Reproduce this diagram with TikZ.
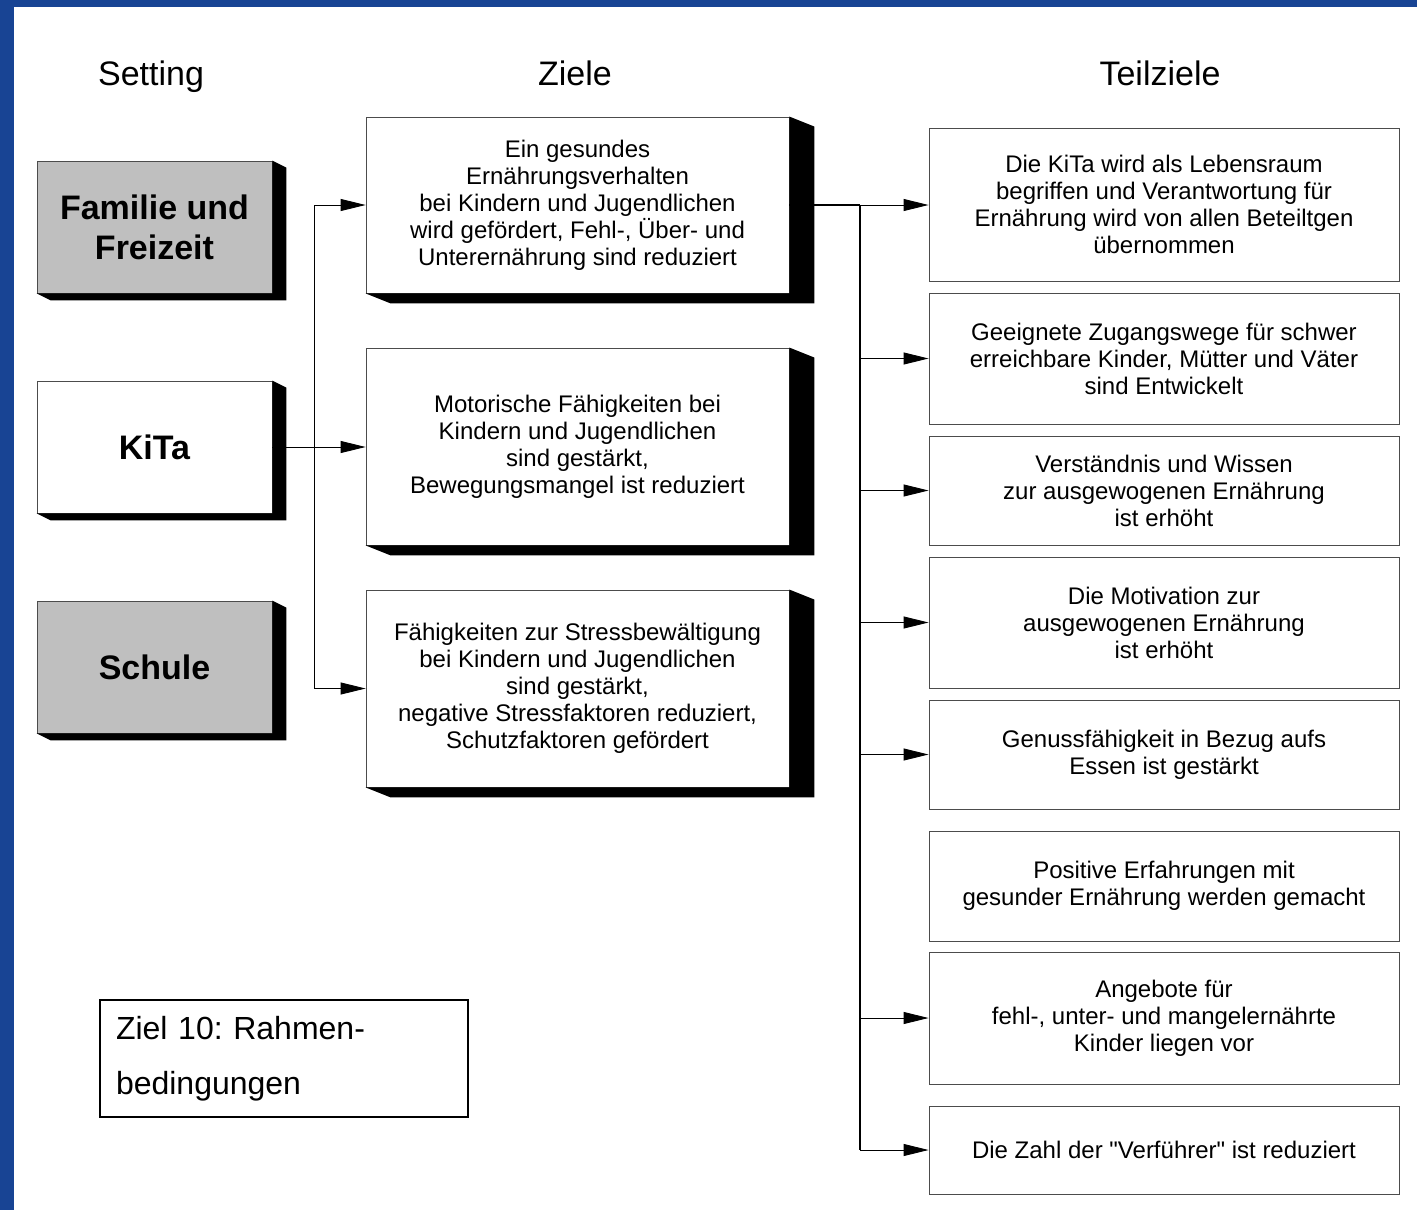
\documentclass[tikz,border=0pt]{standalone}
\usepackage{fontspec}
\setmainfont{Liberation Sans}
\newfontfamily\qfont{Liberation Sans}[Mapping=]
\usetikzlibrary{arrows.meta,calc}
\definecolor{frameblue}{RGB}{24,68,148}
\frenchspacing
\newcommand\boxshadow[3]{%
  \fill (#1.north east) -- ++(#2,#3) -- ($(#1.south east)+(#2,#3)$) -- ($(#1.south west)+(#2,#3)$) -- (#1.south west) -- (#1.south east) -- cycle;}
\begin{document}
\begin{tikzpicture}[x=1pt,y=-1pt,
  every node/.style={font=\fontsize{24}{27}\selectfont, align=center, inner sep=0},
  setbox/.style={draw=black!70, line width=0.8, minimum width=235, minimum height=132, font=\fontsize{34}{40}\selectfont\bfseries},
  zielbox/.style={draw=black!70, fill=white, line width=0.8, minimum width=423},
  teilbox/.style={draw=black!70, line width=0.9, minimum width=470},
  heading/.style={font=\fontsize{34}{40}\selectfont, anchor=base},
  conn/.style={line width=0.9, -{Triangle[length=25pt,width=12pt]}},
  trunk/.style={line width=1.6},
]
\fill[frameblue] (0,0) rectangle (1417,1210);
\fill[white] (14,7) rectangle (1417,1210);
\useasboundingbox (0,0) rectangle (1417,1210);

% headings
\node[heading] (hs) at (151,85) {Setting};
\node[heading] (hz) at (575,85) {Ziele};
\node[heading] (ht) at (1160,85) {Teilziele};

% setting boxes
\node[setbox, fill=black!25] (fam) at (154.5,227) {Familie und\\Freizeit};
\node[setbox, fill=white] (kita) at (154.5,447) {KiTa};
\node[setbox, fill=black!25] (schule) at (154.5,667) {Schule};
\boxshadow{fam}{14}{7}
\boxshadow{kita}{14}{7}
\boxshadow{schule}{14}{7}

% Ziele
\node[zielbox, minimum height=176] (z1) at (577.5,205) {Ein gesundes\\Ernährungsverhalten\\bei Kindern und Jugendlichen\\wird gefördert, Fehl-, Über- und\\Unterernährung sind reduziert};
\node[zielbox, minimum height=197] (z2) at (577.5,446.5) {Motorische Fähigkeiten bei\\Kindern und Jugendlichen\\sind gestärkt,\\Bewegungsmangel ist reduziert};
\node[zielbox, minimum height=197] (z3) at (577.5,688.5) {Fähigkeiten zur Stressbewältigung\\bei Kindern und Jugendlichen\\sind gestärkt,\\negative Stressfaktoren reduziert,\\Schutzfaktoren gefördert};
\boxshadow{z1}{25}{10}
\boxshadow{z2}{25}{10}
\boxshadow{z3}{25}{10}

% Teilziele
\node[teilbox, minimum height=153] (t1) at (1164,204.5) {Die KiTa wird als Lebensraum\\begriffen und Verantwortung für\\Ernährung wird von allen Beteiltgen\\übernommen};
\node[teilbox, minimum height=131] (t2) at (1164,358.5) {Geeignete Zugangswege für schwer\\erreichbare Kinder, Mütter und Väter\\sind Entwickelt};
\node[teilbox, minimum height=109] (t3) at (1164,490.5) {Verständnis und Wissen\\zur ausgewogenen Ernährung\\ist erhöht};
\node[teilbox, minimum height=131] (t4) at (1164,622.5) {Die Motivation zur\\ausgewogenen Ernährung\\ist erhöht};
\node[teilbox, minimum height=109] (t5) at (1164,754.5) {Genussfähigkeit in Bezug aufs\\Essen ist gestärkt};
\node[teilbox, minimum height=110] (t6) at (1164,886) {Positive Erfahrungen mit\\gesunder Ernährung werden gemacht};
\node[teilbox, minimum height=132] (t7) at (1164,1018) {Angebote für\\fehl-, unter- und mangelernährte\\Kinder liegen vor};
\node[teilbox, minimum height=88] (t8) at (1164,1150) {Die Zahl der {\qfont"}Verführer{\qfont"} ist reduziert};

% Ziel 10
\node[draw, line width=1.5, minimum width=368, minimum height=117, text width=336, align=left, font=\fontsize{32}{55}\selectfont] (ziel) at (284,1058.5) {Ziel 10: Rahmen-\\bedingungen};

% connectors setting -> Ziele
\coordinate (sj) at (314,447);
\draw[line width=0.9] (kita.east) -- (sj);
\draw[conn] (sj) |- (z1.west);
\draw[conn] (sj) -- (sj -| z2.west);
\draw[conn] (sj) |- (z3.west);

% connectors Ziele -> Teilziele
\coordinate (tj) at (860,205);
\draw[trunk] (z1.east) -- (tj);
\draw[trunk] (tj) -- (tj |- t8.west);
\draw[conn] (tj) -- (tj -| t1.west);
\foreach \t in {t2,t3,t4,t5,t7,t8}
  \draw[conn] (tj |- \t.west) -- (\t.west);
\end{tikzpicture}
\end{document}
